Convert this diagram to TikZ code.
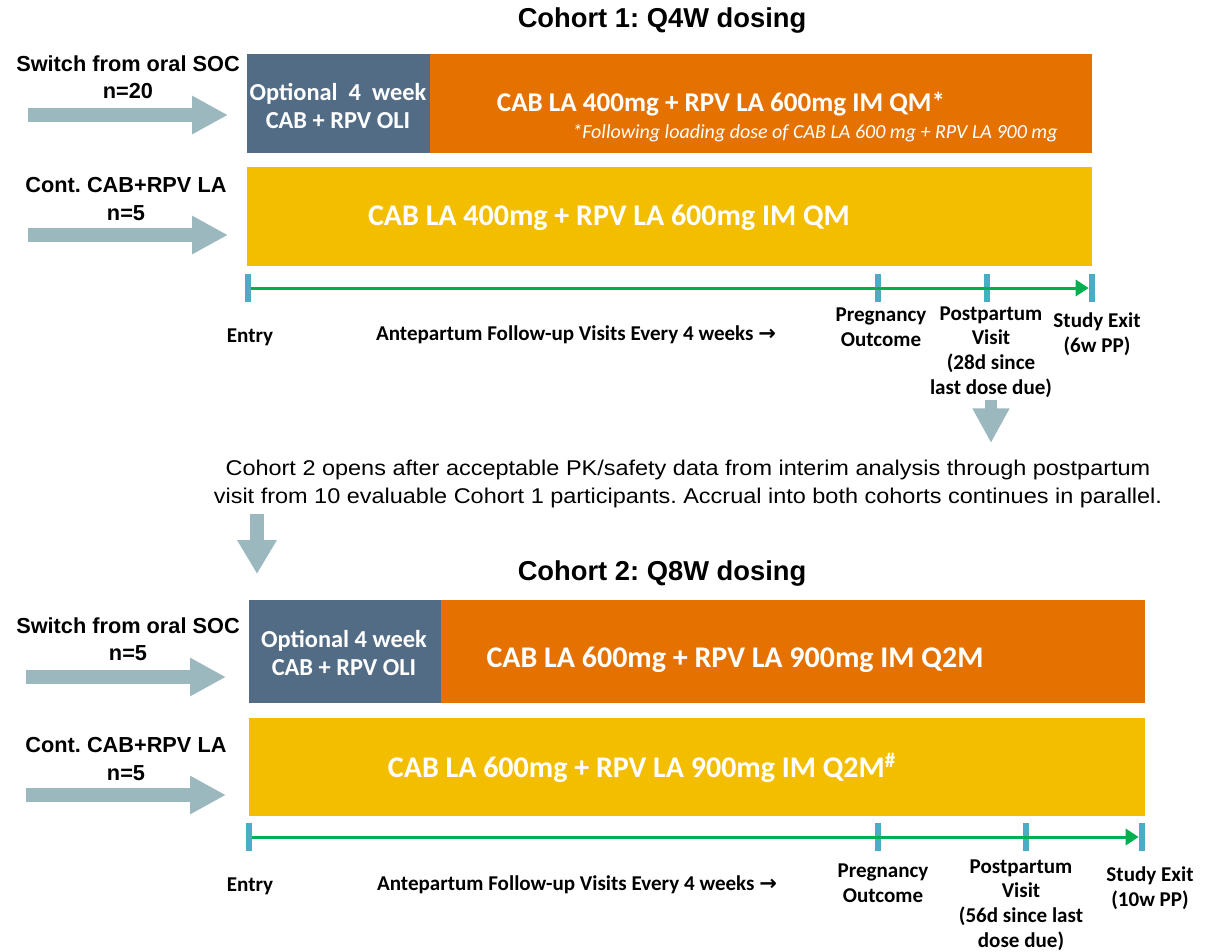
\documentclass[tikz,border=0pt]{standalone}
\usepackage{fontspec}
\setmainfont{Liberation Sans}
\newfontfamily\calfont{Carlito}
\newfontfamily\symfont{DejaVu Sans}
\newfontfamily\descfont{Liberation Sans}[FakeStretch=1.1]
\usetikzlibrary{arrows.meta,fit}
\definecolor{navy}{HTML}{526C86}
\definecolor{dose}{HTML}{E57200}
\definecolor{cont}{HTML}{F3BE00}
\definecolor{arrowgrey}{HTML}{9BB8BF}
\definecolor{tickblue}{HTML}{4BACC6}
\definecolor{visitgreen}{HTML}{00B050}
\frenchspacing
\begin{document}
\begin{tikzpicture}
[x=0.75pt,y=-0.75pt,
 ttl/.style={font=\bfseries\fontsize{20.5}{24}\selectfont},
 lbl/.style={font=\bfseries\fontsize{16.3}{20.5}\selectfont,align=center},
 box/.style={inner sep=0,outer sep=0},
 opttxt/.style={text=white,font=\calfont\bfseries\fontsize{18.3}{20.5}\selectfont,align=center},
 boxtxt/.style={text=white,font=\calfont\bfseries\fontsize{22.5}{26}\selectfont},
 foot/.style={text=white,font=\calfont\itshape\fontsize{15}{18}\selectfont},
 tl/.style={font=\calfont\bfseries\fontsize{15.8}{18.5}\selectfont,align=center},
 desc/.style={font=\descfont\fontsize{16}{20.5}\selectfont,align=center},
 tick/.style={fill=tickblue,minimum width=4.5pt,minimum height=21pt,inner sep=0},
 fat/.style={draw=arrowgrey,line width=10.5pt,-{Triangle[length=27pt,width=27pt]}},
 visits/.style={draw=visitgreen,line width=2.25pt,-{Triangle[length=9.75pt,width=12pt]}}]
\useasboundingbox (0,0) rectangle (1211,951);

% cohort 1
\node[ttl] (c1) at (662,20) {Cohort 1: Q4W dosing};
\node[box,fill=navy,fit={(247,54)(430,153)}] (opt1) {};
\node[box,fill=dose,fit={(430,54)(1092,153)}] (q4w1) {};
\node[box,fill=cont,fit={(247,167)(1092,266)}] (q4w2) {};
\node[opttxt] (opt1t) at (338,106) {Optional~~4~~week\\CAB + RPV OLI};
\node[boxtxt,font=\calfont\bfseries\fontsize{20.3}{24}\selectfont] (q4w1t) at (721,104) {CAB LA 400mg + RPV LA 600mg IM QM*};
\node[foot] (q4w1f) at (815,133) {*Following loading dose of CAB LA 600 mg + RPV LA 900 mg};
\node[boxtxt] (q4w2t) at (609,218) {CAB LA 400mg + RPV LA 600mg IM QM};

\node[lbl] (sw1) at (128,77) {Switch from oral SOC\\n=20};
\node[lbl] (ct1) at (126,199) {Cont. CAB+RPV LA\\n=5};
\coordinate (a1s) at (28,115); \coordinate (a1e) at (228,115);
\coordinate (a2s) at (28,235); \coordinate (a2e) at (228,235);
\draw[fat] (a1s) -- (a1e);
\draw[fat] (a2s) -- (a2e);

\node[tick] (e1) at (248,288) {};
\node[tick] (p1) at (878,288) {};
\node[tick] (v1) at (987,288) {};
\node[tick] (x1) at (1092,288) {};
\draw[visits] (e1.east) -- (x1.west);
\node[tl] (en1) at (250,337) {Entry};
\node[tl] (ap1) at (576,335) {Antepartum Follow-up Visits Every 4 weeks {\symfont\bfseries →}};
\node[tl] (po1) at (881,327) {Pregnancy\\Outcome};
\node[tl] (pv1) at (991,352) {Postpartum\\Visit\\(28d since\\last dose due)};
\node[tl] (se1) at (1097,334) {Study Exit\\(6w PP)};

% interim
\coordinate (d1s) at (991,400); \coordinate (d1e) at (991,443);
\draw[draw=arrowgrey,line width=9pt,-{Triangle[length=26pt,width=26pt]}] (d1s) -- (d1e);
\node[desc] (note) at (688,484) {Cohort 2 opens after acceptable PK/safety data from interim analysis through postpartum\\visit from 10 evaluable Cohort 1 participants. Accrual into both cohorts continues in parallel.};
\coordinate (d2s) at (257,514); \coordinate (d2e) at (257,574);
\draw[draw=arrowgrey,line width=10pt,-{Triangle[length=25.5pt,width=28pt]}] (d2s) -- (d2e);

% cohort 2
\node[ttl] (c2) at (662,573) {Cohort 2: Q8W dosing};
\node[box,fill=navy,fit={(249,600)(441,703)}] (opt2) {};
\node[box,fill=dose,fit={(441,600)(1145,703)}] (q8w1) {};
\node[box,fill=cont,fit={(249,718)(1145,816)}] (q8w2) {};
\node[opttxt] (opt2t) at (344,653) {Optional 4 week\\CAB + RPV OLI};
\node[boxtxt] (q8w1t) at (735,660) {CAB LA 600mg + RPV LA 900mg IM Q2M};
\node[boxtxt] (q8w2t) at (642,768) {CAB LA 600mg + RPV LA 900mg IM Q2M\textsuperscript{\#}};

\node[lbl] (sw2) at (128,639) {Switch from oral SOC\\n=5};
\node[lbl] (ct2) at (126,759) {Cont. CAB+RPV LA\\n=5};
\coordinate (a3s) at (26,677); \coordinate (a3e) at (226,677);
\coordinate (a4s) at (26,795); \coordinate (a4e) at (226,795);
\draw[fat] (a3s) -- (a3e);
\draw[fat] (a4s) -- (a4e);

\node[tick] (e2) at (249,837) {};
\node[tick] (p2) at (878,837) {};
\node[tick] (v2) at (1026,837) {};
\node[tick] (x2) at (1142,837) {};
\draw[visits] (e2.east) -- (x2.west);
\node[tl] (en2) at (250,886) {Entry};
\node[tl] (ap2) at (577,885) {Antepartum Follow-up Visits Every 4 weeks {\symfont\bfseries →}};
\node[tl] (po2) at (883,883) {Pregnancy\\Outcome};
\node[tl] (pv2) at (1021,905) {Postpartum\\Visit\\(56d since last\\dose due)};
\node[tl] (se2) at (1150,888) {Study Exit\\(10w PP)};
\end{tikzpicture}
\end{document}
